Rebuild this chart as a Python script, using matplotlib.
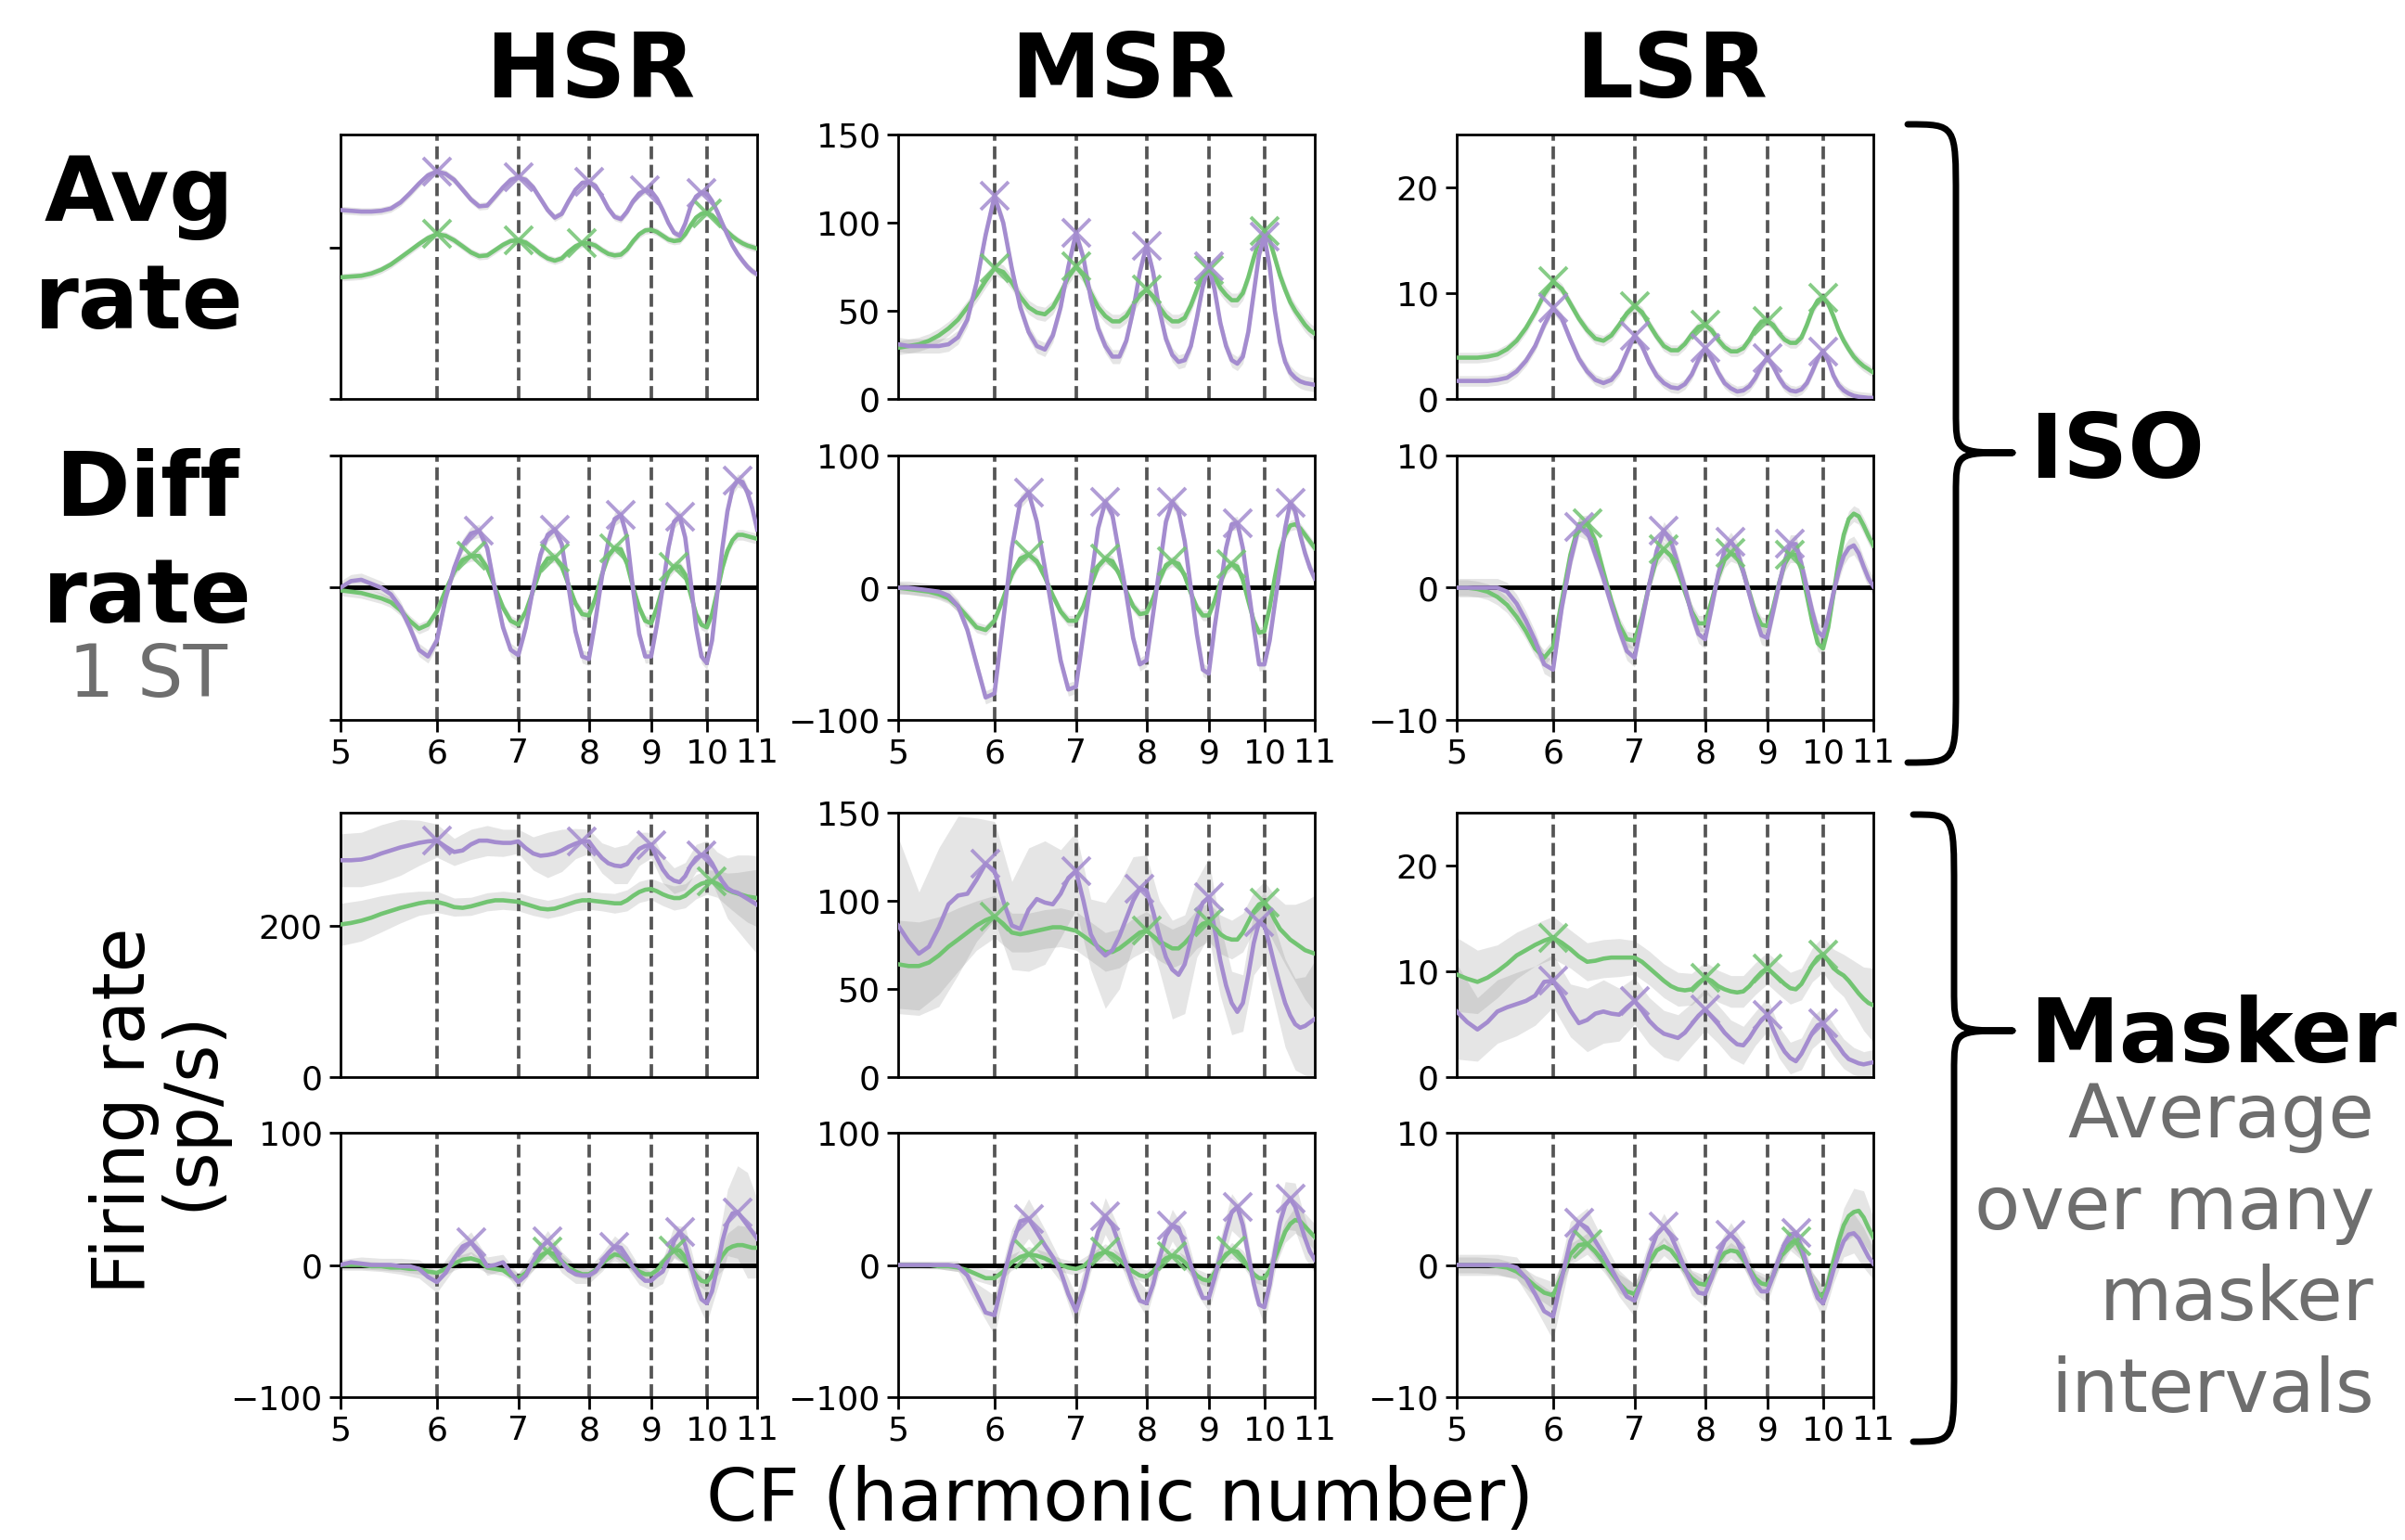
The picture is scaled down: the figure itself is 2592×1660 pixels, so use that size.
import numpy as np
import matplotlib
matplotlib.use("Agg")
import matplotlib.pyplot as plt
from matplotlib.path import Path
from matplotlib.patches import PathPatch
from matplotlib.ticker import NullLocator

# ---------------- data ----------------
# CF axis in harmonic numbers (5.0 ... 11.0, step 0.1)
CF = np.round(np.linspace(5.0, 11.0, 61), 1)
HARMONICS = [6, 7, 8, 9, 10]
XTICKS = [5, 6, 7, 8, 9, 10, 11]
XTICKLABELS = ["5", "6", "7", "8", "9", "10", "11"]

# ISO / HSR
hsr_iso_avg_a = [250,249,248,248,249,252,260,272,285,296,
                 301,298,290,277,264,255,256,268,280,290,
                 293,290,280,265,250,240,245,262,277,286,
                 287,282,268,252,241,238,248,262,272,276,
                 275,265,250,233,220,216,232,255,268,273,
                 272,262,248,232,217,203,192,183,175,169,
                 165]
hsr_iso_avg_b = [161,162,163,166,171,178,187,196,205,213,
                 218,216,210,202,194,189,190,197,204,209,
                 210,207,200,192,186,183,186,195,202,206,
                 206,203,197,192,190,191,198,209,218,223,
                 224,221,216,211,209,210,218,230,240,245,
                 246,243,236,228,221,215,210,206,203,201,
                 199]
hsr_iso_diff_a = [0,5,6,3,0,-5,-15,-30,-47,-52,
                  -40,-8,15,32,41,43,30,-2,-30,-47,
                  -51,-30,0,25,40,44,33,0,-33,-52,
                  -54,-25,8,35,52,55,38,-2,-35,-52,
                  -52,-28,0,30,50,54,38,5,-30,-52,
                  -57,-40,-5,30,58,75,81,80,72,60,
                  44]
hsr_iso_diff_b = [-2,-3,-4,-6,-8,-11,-17,-25,-31,-28,
                  -18,-2,12,21,24,24,15,0,-15,-25,
                  -28,-18,-2,14,22,23,16,2,-12,-20,
                  -21,-8,10,24,30,29,18,0,-15,-25,
                  -27,-15,0,11,16,16,10,-5,-20,-28,
                  -30,-20,-3,15,28,36,40,40,39,38,
                  37]
# ISO / MSR
msr_iso_avg_a = [31,30,30,30,30,31,35,45,66,93,
                 115,100,74,52,38,30,28,36,52,75,
                 94,80,57,40,30,24,24,33,50,72,
                 87,72,50,34,25,21,22,30,46,64,
                 75,62,43,30,22,20,24,38,60,82,
                 92,75,50,32,21,15,12,10,9,8.5,
                 8]
msr_iso_avg_b = [29,30,31,33,36,40,45,52,59,67,
                 74,72,66,58,52,49,48,52,60,69,
                 75,70,60,52,47,44,44,47,53,59,
                 62,58,52,47,44,44,46,53,62,70,
                 73,69,63,59,56,56,60,69,80,90,
                 95,90,80,70,62,55,50,46,42,39,
                 37]
msr_iso_diff_a = [0,0,-1,-2,-3,-6,-14,-32,-58,-83,
                  -80,-25,30,65,72,50,15,-20,-55,-77,
                  -75,-35,5,45,65,55,25,-5,-38,-58,
                  -55,-20,15,50,65,58,35,0,-35,-62,
                  -65,-30,0,30,48,49,30,0,-30,-58,
                  -58,-40,-12,15,45,64,58,40,26,15,
                  7]
msr_iso_diff_b = [0,-1,-2,-3,-5,-8,-14,-22,-30,-32,
                  -25,-8,10,22,25,20,8,-6,-18,-25,
                  -25,-14,2,16,22,20,10,-3,-14,-20,
                  -19,-8,6,17,20,18,9,-4,-15,-21,
                  -21,-10,4,14,18,16,6,-10,-25,-34,
                  -33,-15,8,28,40,47,48,45,40,35,
                  30]
# ISO / LSR
lsr_iso_avg_a = [1.7,1.7,1.7,1.7,1.8,2.0,2.6,3.6,5.0,7.0,
                 8.6,7.6,5.6,3.8,2.6,1.8,1.5,1.8,2.7,4.4,
                 6.0,5.0,3.4,2.2,1.5,1.1,1.0,1.4,2.3,3.7,
                 4.8,3.8,2.5,1.5,1.0,0.7,0.8,1.2,2.0,3.1,
                 3.9,3.1,2.0,1.2,0.8,0.7,0.9,1.5,2.6,3.8,
                 4.5,3.6,2.2,1.3,0.8,0.5,0.3,0.2,0.15,0.1,
                 0.1]
lsr_iso_avg_b = [3.9,3.9,3.9,4.0,4.2,4.7,5.5,6.7,8.2,9.9,
                 11.1,10.4,9.0,7.6,6.5,5.7,5.5,6.0,7.0,8.1,
                 8.8,8.2,7.0,5.9,5.0,4.6,4.6,5.2,6.1,6.8,
                 7.0,6.5,5.6,4.9,4.5,4.5,4.8,5.6,6.6,7.3,
                 7.4,7.0,6.2,5.6,5.3,5.3,5.8,7.0,8.4,9.3,
                 9.6,9.0,7.8,6.5,5.5,4.7,4.0,3.5,3.1,2.8,
                 2.5]
lsr_iso_diff_a = [0,0,0,0,0,-0.3,-1.2,-2.5,-4.0,-5.8,
                  -6.2,-1.5,2.0,4.6,4.3,2.5,0.7,-1.3,-3.2,-4.8,
                  -5.3,-2.5,0.3,2.8,4.3,3.5,1.8,0,-2.0,-3.5,
                  -3.9,-1.5,1.0,2.8,3.5,2.8,1.2,-0.5,-2.2,-3.6,
                  -3.8,-1.8,0.2,2.0,3.3,3.3,1.8,0,-1.8,-3.3,
                  -3.7,-2.2,-0.4,1.2,2.4,3.0,3.2,2.6,1.6,0.7,
                  0.1]
lsr_iso_diff_b = [0,0,-0.1,-0.3,-0.7,-1.3,-2.2,-3.3,-4.6,-5.3,
                  -4.5,-1.0,2.5,4.8,4.9,3.5,1.2,-1.0,-2.8,-3.9,
                  -4.0,-2.2,0.3,2.2,2.9,2.4,1.2,-0.3,-1.8,-2.7,
                  -2.7,-1.0,0.8,2.1,2.6,2.4,1.2,-0.4,-1.9,-2.8,
                  -2.9,-1.5,0.3,1.8,2.5,2.5,1.4,-0.6,-2.6,-4.2,
                  -4.6,-3.0,-0.5,2.0,4.0,5.2,5.6,5.4,4.7,3.9,
                  3.2]
# Masker / HSR
hsr_msk_avg_a = [287,287,288,291,296,300,304,307,310,312,
                 313,305,298,300,308,313,313,311,310,310,
                 312,303,296,293,294,296,300,305,309,312,
                 312,300,290,283,280,279,282,293,302,306,
                 307,290,275,265,260,258,266,280,290,294,
                 293,283,270,259,250,246,244,240,236,232,
                 228]
hsr_msk_avg_b = [202,204,207,211,216,220,224,227,230,232,
                 232,229,225,224,226,229,232,234,234,233,
                 232,229,226,223,222,223,226,229,232,234,
                 234,233,232,231,230,230,234,240,245,248,
                 249,246,242,239,237,237,240,246,252,256,
                 258,259,256,252,248,245,243,241,239,238,
                 237]
hsr_msk_diff_a = [0,2,1,0,0,0,-1,-1,-3,-9,
                  -13,-6,5,14,17,9,-1,0,2,-6,
                  -13,-8,3,13,18,12,2,-4,-7,-8,
                  -8,-5,2,9,14,13,6,-2,-8,-12,
                  -12,-8,-5,5,18,25,15,0,-15,-26,
                  -29,-20,-2,18,32,39,40,35,30,25,
                  20]
hsr_msk_diff_b = [0,0,0,-1,-1,-2,-2,-3,-3,-5,
                  -6,-3,1,4,5,3,-2,-3,-4,-8,
                  -10,-6,1,7,10,8,3,-2,-5,-7,
                  -7,-4,1,5,8,7,3,-2,-5,-7,
                  -7,-4,1,7,11,11,6,-2,-8,-12,
                  -13,-8,0,7,12,14,15,15,14,13,
                  13]
# Masker / MSR
msr_msk_avg_a = [86,77,70,74,85,98,103,104,112,121,
                 117,100,86,84,95,101,99,98,104,113,
                 117,100,81,73,69,72,80,90,100,107,
                 106,94,80,68,61,58,64,78,90,99,
                 102,84,66,52,42,37,42,58,76,88,
                 86,75,63,52,42,35,30,28,29,31,
                 33]
msr_msk_avg_b = [64,63,63,65,69,74,78,82,86,89,
                 91,87,82,81,82,83,84,85,85,84,
                 83,80,77,74,71,71,73,76,79,82,
                 83,80,77,75,73,73,76,80,84,87,
                 88,85,81,79,78,78,82,88,94,98,
                 99,95,89,84,81,78,76,74,72,71,
                 70]
msr_msk_diff_a = [0,0,0,0,0,0,-1,-8,-22,-36,
                  -38,-10,15,33,35,25,15,6,-5,-22,
                  -35,-18,5,25,37,30,15,0,-15,-27,
                  -29,-15,5,22,30,28,15,0,-14,-25,
                  -25,-10,8,25,40,44,30,8,-14,-30,
                  -32,-15,10,32,45,50,44,32,20,10,
                  4]
msr_msk_diff_b = [0,0,0,0,-1,-1,-2,-4,-7,-10,
                  -10,-5,2,6,8,7,5,2,0,-2,
                  -3,-1,4,8,10,8,4,-1,-5,-8,
                  -9,-5,1,5,7,6,2,-3,-8,-11,
                  -12,-6,2,8,11,10,5,-2,-7,-10,
                  -10,-4,5,15,25,31,34,33,29,25,
                  21]
# Masker / LSR
lsr_msk_avg_a = [6.2,5.2,4.5,5.2,6.2,6.6,6.9,7.2,7.7,9.0,
                 9.1,7.8,6.3,5.1,5.4,6.0,6.2,6.0,5.9,6.6,
                 7.2,6.3,5.3,4.6,4.1,3.9,3.7,4.2,5.0,5.8,
                 6.4,5.7,5.0,4.2,3.6,3.1,3.0,3.7,4.6,5.4,
                 5.9,4.5,3.3,2.4,1.8,1.5,2.2,3.2,4.2,4.9,
                 5.1,4.3,3.5,2.9,2.2,1.7,1.5,1.3,1.2,1.3,
                 1.4]
lsr_msk_avg_b = [9.7,9.3,9.0,9.4,10.0,10.7,11.5,12.0,12.5,12.9,
                 13.2,12.7,12.1,11.4,10.9,11.0,11.2,11.3,11.3,11.3,
                 11.3,10.9,10.3,9.7,9.1,8.6,8.3,8.2,8.3,8.9,
                 9.4,9.1,8.6,8.3,8.1,8.0,8.1,8.6,9.3,9.9,
                 10.3,9.8,9.3,8.8,8.4,8.3,8.8,9.7,10.6,11.3,
                 11.6,11.0,10.3,9.9,9.6,9.1,8.5,7.9,7.4,7.0,
                 6.8]
lsr_msk_diff_a = [0,0,0,0,0,0,-0.2,-1.0,-2.2,-3.5,
                  -3.9,-1.0,1.8,3.2,2.8,1.8,0.8,-0.3,-1.4,-2.4,
                  -2.7,-1.2,0.8,2.3,2.9,2.2,1.0,-0.3,-1.4,-2.1,
                  -2.2,-1.0,0.6,1.8,2.3,1.8,0.8,-0.4,-1.4,-2.0,
                  -2.0,-0.8,0.5,1.6,2.3,2.4,1.4,0.0,-1.4,-2.5,
                  -2.9,-1.8,-0.4,0.8,1.8,2.3,2.4,2.0,1.3,0.6,
                  0.1]
lsr_msk_diff_b = [0,0,0,0,-0.1,-0.2,-0.5,-1.0,-1.6,-2.1,
                  -2.3,-0.8,0.8,1.5,1.6,1.0,0.2,-0.6,-1.4,-2.0,
                  -2.2,-1.2,0.2,1.1,1.4,1.1,0.4,-0.4,-1.0,-1.4,
                  -1.5,-0.8,0.2,0.9,1.1,1.0,0.4,-0.3,-1.0,-1.4,
                  -1.5,-0.8,0.3,1.2,1.7,1.8,1.0,-0.2,-1.3,-2.1,
                  -2.4,-1.3,0.3,1.8,3.0,3.7,4.0,4.1,3.6,2.8,
                  2.1]

# band half-widths: scalars for ISO, arrays on the 0.2-step grid for masker
hsr_msk_avg_hw_a = [35,36,38,37,30,22,18,20,20,18,16,22,30,28,20,16,20,24,26,22,17,18,17,18,18,20,28,40,50,58,65]
hsr_msk_avg_hw_b = [28,27,24,20,16,14,12,12,12,12,12,12,12,12,12,12,12,13,14,14,14,15,16,16,16,16,18,22,28,34,38]
msr_msk_avg_hw_a = [50,35,45,45,35,28,25,35,35,25,22,20,30,30,25,20,20,28,28,22,22,20,18,16,18,20,22,25,26,28,33]
msr_msk_avg_hw_b = [25,25,22,18,14,12,11,11,11,11,11,11,11,11,11,11,11,11,11,11,11,11,11,11,11,12,14,17,22,28,33]
lsr_msk_avg_hw_a = [4.5,3.0,3.0,3.0,2.8,2.5,2.5,3.0,3.0,2.5,2.2,2.2,2.2,2.2,2.0,2.0,1.8,1.8,1.8,1.6,1.6,1.5,1.5,1.5,1.5,1.5,1.5,1.4,1.3,1.2,1.2]
lsr_msk_avg_hw_b = [3.5,3.0,2.5,2.2,2.0,2.0,1.8,1.8,1.8,1.8,1.6,1.6,1.6,1.6,1.5,1.5,1.5,1.5,1.5,1.5,1.5,1.5,1.5,1.5,1.6,1.7,1.8,2.0,2.5,3.0,3.5]
hsr_msk_diff_hw_a = [4,5,5,6,7,8,8,8,7,6,6,7,8,8,7,6,7,8,8,7,7,9,12,14,12,15,16,25,35,40,30]
hsr_msk_diff_hw_b = [3,3,3,3,4,5,5,5,4,4,4,5,5,5,4,4,4,5,5,4,4,5,6,6,6,7,8,12,15,15,12]
msr_msk_diff_hw_a = [3,3,3,4,8,15,12,15,12,8,12,10,14,12,8,10,10,12,12,8,10,12,14,12,10,14,15,18,18,15,10]
msr_msk_diff_hw_b = [2,2,2,3,5,6,6,6,5,5,5,5,6,5,5,5,5,6,5,5,5,5,6,6,6,6,7,8,10,10,10]
lsr_msk_diff_hw_a = [0.8,0.8,0.8,0.8,1.0,1.8,1.5,1.5,1.0,1.0,1.2,1.0,1.0,0.9,0.9,1.0,0.9,0.9,0.9,0.8,0.9,0.8,0.8,0.8,0.9,1.2,1.0,1.2,1.5,1.5,1.2]
lsr_msk_diff_hw_b = [0.6,0.6,0.6,0.6,0.8,1.0,0.8,0.8,0.7,0.7,0.8,0.7,0.7,0.6,0.6,0.7,0.6,0.6,0.6,0.6,0.7,0.6,0.6,0.6,0.7,0.8,0.9,1.3,1.8,2.0,1.5]

# ---------------- style ----------------
PURPLE = "#a48ccf"
GREEN = "#72c472"
GRAYTXT = "#6e6e6e"
W, H = 2592, 1660

fig = plt.figure(figsize=(W / 100, H / 100), dpi=100)

col_left = [367, 968, 1570]
col_w = 449
row_top = [145, 491, 876, 1221]
row_h = 285


def make_ax(r, c):
    l = col_left[c] / W
    b = 1 - (row_top[r] + row_h) / H
    return fig.add_axes([l, b, col_w / W, row_h / H])


panels = [
    # row, col, a, b, hw_a, hw_b, kind, ylim, yticks, show ylabels, markers a, markers b
    (0, 0, hsr_iso_avg_a, hsr_iso_avg_b, 5, 5, "avg", (0, 350), [0, 200], False, [6, 7, 8, 9, 10], [6, 7, 8, 10]),
    (0, 1, msr_iso_avg_a, msr_iso_avg_b, 4, 4, "avg", (0, 150), [0, 50, 100, 150], True, [6, 7, 8, 9, 10], [6, 7, 8, 9, 10]),
    (0, 2, lsr_iso_avg_a, lsr_iso_avg_b, 0.5, 0.5, "avg", (0, 25), [0, 10, 20], True, [6, 7, 8, 9, 10], [6, 7, 8, 9, 10]),
    (1, 0, hsr_iso_diff_a, hsr_iso_diff_b, 5, 4, "diff", (-100, 100), [-100, 0, 100], False, [6, 7, 8, 9, 10], [6, 7, 8, 9]),
    (1, 1, msr_iso_diff_a, msr_iso_diff_b, 5, 4, "diff", (-100, 100), [-100, 0, 100], True, [6, 7, 8, 9, 10], [6, 7, 8, 9]),
    (1, 2, lsr_iso_diff_a, lsr_iso_diff_b, 0.7, 0.6, "diff", (-10, 10), [-10, 0, 10], True, [6, 7, 8, 9], [6, 7, 8, 9]),
    (2, 0, hsr_msk_avg_a, hsr_msk_avg_b, hsr_msk_avg_hw_a, hsr_msk_avg_hw_b, "avg", (0, 350), [0, 200], True, [6, 8, 9, 10], [10]),
    (2, 1, msr_msk_avg_a, msr_msk_avg_b, msr_msk_avg_hw_a, msr_msk_avg_hw_b, "avg", (0, 150), [0, 50, 100, 150], True, [6, 7, 8, 9, 10], [6, 8, 9, 10]),
    (2, 2, lsr_msk_avg_a, lsr_msk_avg_b, lsr_msk_avg_hw_a, lsr_msk_avg_hw_b, "avg", (0, 25), [0, 10, 20], True, [6, 7, 8, 9, 10], [6, 8, 9, 10]),
    (3, 0, hsr_msk_diff_a, hsr_msk_diff_b, hsr_msk_diff_hw_a, hsr_msk_diff_hw_b, "diff", (-100, 100), [-100, 0, 100], True, [6, 7, 8, 9, 10], [7, 9]),
    (3, 1, msr_msk_diff_a, msr_msk_diff_b, msr_msk_diff_hw_a, msr_msk_diff_hw_b, "diff", (-100, 100), [-100, 0, 100], True, [6, 7, 8, 9, 10], [6, 7, 8, 9]),
    (3, 2, lsr_msk_diff_a, lsr_msk_diff_b, lsr_msk_diff_hw_a, lsr_msk_diff_hw_b, "diff", (-10, 10), [-10, 0, 10], True, [6, 7, 8, 9], [6, 9]),
]


def band(ax, y, hw):
    y = np.asarray(y, float)
    if np.isscalar(hw):
        ax.fill_between(CF, y - hw, y + hw, color="gray", alpha=0.2, lw=0, zorder=1)
    else:
        x2 = CF[::2]
        y2 = y[::2]
        hw = np.asarray(hw, float)
        ax.fill_between(x2, y2 - hw, y2 + hw, color="gray", alpha=0.2, lw=0, zorder=1)


def markers(ax, y, harms, kind, color, z):
    y = np.asarray(y, float)
    for n in harms:
        if kind == "avg":
            m = (CF >= n - 0.3) & (CF <= n + 0.3)
        else:
            m = (CF > n) & (CF < n + 1)
        idx = np.where(m)[0]
        i = idx[np.argmax(y[idx])]
        ax.plot(CF[i], y[i], "x", color=color, ms=22, mew=2.8, alpha=0.85, zorder=z)


for (r, c, ya, yb, hwa, hwb, kind, ylim, yticks, showy, mka, mkb) in panels:
    assert len(ya) == len(CF) and len(yb) == len(CF)
    ax = make_ax(r, c)
    ax.set_xscale("log")
    band(ax, yb, hwb)
    band(ax, ya, hwa)
    for n in HARMONICS:
        ax.axvline(n, color="#555555", ls="--", lw=2.7, zorder=2)
    if kind == "diff":
        ax.axhline(0, color="black", lw=3.5, zorder=2.5)
    ax.plot(CF, yb, color=GREEN, lw=3.3, zorder=3)
    ax.plot(CF, ya, color=PURPLE, lw=3.3, zorder=3.5)
    markers(ax, yb, mkb, kind, GREEN, 4)
    markers(ax, ya, mka, kind, PURPLE, 4.5)
    ax.set_xlim(5, 11)
    ax.set_ylim(*ylim)
    ax.set_yticks(yticks)
    if not showy:
        ax.set_yticklabels([])
    ax.xaxis.set_minor_locator(NullLocator())
    if r in (1, 3):
        ax.set_xticks(XTICKS)
        ax.set_xticklabels(XTICKLABELS)
    else:
        ax.set_xticks([])
    ax.tick_params(axis="both", which="major", length=9, width=2, labelsize=26, pad=5)
    for s in ax.spines.values():
        s.set_linewidth(2)


def fx(x):
    return x / W


def fy(y):
    return 1 - y / H


# titles and labels
for txt, x in [("HSR", 636), ("MSR", 1210), ("LSR", 1802)]:
    fig.text(fx(x), fy(78), txt, ha="center", va="center", fontsize=70, fontweight="bold")

fig.text(fx(150), fy(270), "Avg\nrate", ha="center", va="center", fontsize=70,
         fontweight="bold", linespacing=1.3)
fig.text(fx(159), fy(587), "Diff\nrate", ha="center", va="center", fontsize=70,
         fontweight="bold", linespacing=1.3)
fig.text(fx(159), fy(729), "1 ST", ha="center", va="center", fontsize=56, color=GRAYTXT)

fig.text(fx(2187), fy(488), "ISO", ha="left", va="center", fontsize=70, fontweight="bold")
fig.text(fx(2187), fy(1119), "Masker", ha="left", va="center", fontsize=70, fontweight="bold")
fig.text(fx(2559), fy(1352), "Average\nover many\nmasker\nintervals", ha="right", va="center",
         multialignment="right", fontsize=58, color=GRAYTXT, linespacing=1.34)

fig.text(fx(170), fy(1197), "Firing rate\n(sp/s)", rotation=90, ha="center", va="center",
         fontsize=56, linespacing=0.95)
fig.text(fx(1207), fy(1617), "CF (harmonic number)", ha="center", va="center", fontsize=57)


# braces
def brace(x0, xb, xt, yt, ym, yb, r, rt):
    P = lambda x, y: (fx(x), fy(y))
    verts = [P(x0, yt), P(xb, yt), P(xb, yt), P(xb, yt + r),
             P(xb, ym - rt),
             P(xb, ym), P(xb, ym), P(xt, ym),
             P(xb, ym), P(xb, ym), P(xb, ym + rt),
             P(xb, yb - r),
             P(xb, yb), P(xb, yb), P(x0, yb)]
    codes = [Path.MOVETO, Path.CURVE4, Path.CURVE4, Path.CURVE4,
             Path.LINETO,
             Path.CURVE4, Path.CURVE4, Path.CURVE4,
             Path.CURVE4, Path.CURVE4, Path.CURVE4,
             Path.LINETO,
             Path.CURVE4, Path.CURVE4, Path.CURVE4]
    patch = PathPatch(Path(verts, codes), transform=fig.transFigure, fill=False,
                      lw=5, ec="black", capstyle="round", joinstyle="round")
    fig.patches.append(patch)


brace(2056, 2108, 2169, 134, 488, 822, 80, 45)
brace(2062, 2106, 2169, 878, 1111, 1554, 80, 45)

fig.savefig("out.png", dpi=100)
